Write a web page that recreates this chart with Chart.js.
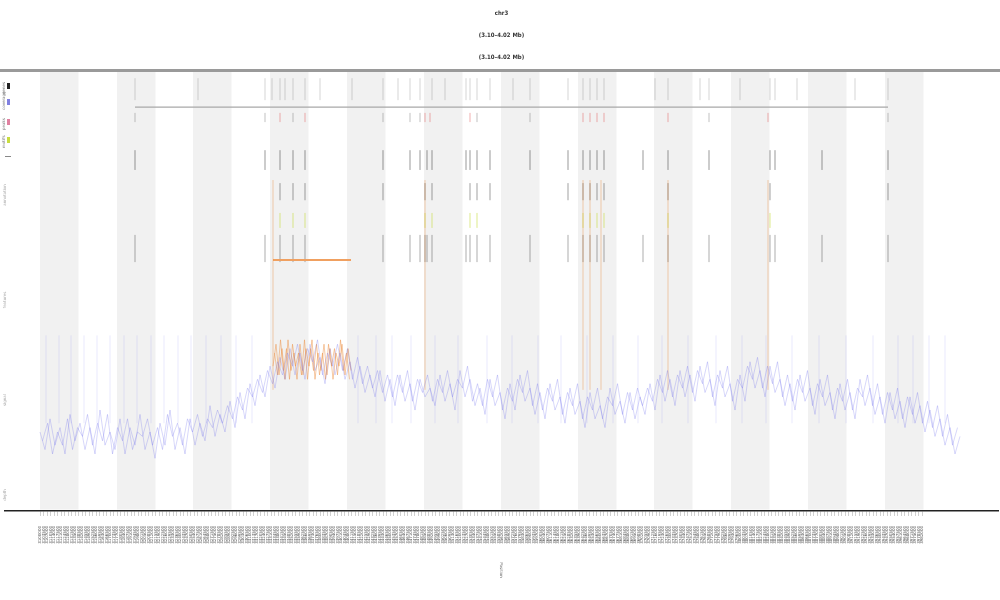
<!DOCTYPE html>
<html>
<head>
<meta charset="utf-8">
<script src="https://cdn.jsdelivr.net/npm/chart.js@4.4.1/dist/chart.umd.min.js"></script>
<style>
  html, body { margin: 0; padding: 0; background: #fff; }
  #wrap { width: 1000px; height: 600px; }
</style>
</head>
<body>
<div id="wrap"><canvas id="plot" width="1000" height="600"></canvas></div>
<script>
// Titre (trois lignes) et libellés
const titleLines = ['chr3', '(3.10–4.02 Mb)', '(3.10–4.02 Mb)'];
const xAxisTitle = 'Position';
const legendItems = ['genes', 'coverage', 'peaks', 'motifs', 'range'];
const legendColors = ['#222222', '#8080e0', '#e080a0', '#c8dc40', '#888888'];
const rowLabels = ['annotation', 'features', 'signal', 'depth'];

// Bandes grises (début, en unités de position)
const bandStarts = [0, 77, 153, 230, 307, 384, 461, 538, 614, 691, 768, 845];
const bandWidth = 38.5;

// Étiquettes de l'axe X
const tickStart = 0;
const tickStep = 3.5;
const tickCount = 253;
const tickLabels = [];
for (let i = 0; i < tickCount; i++) tickLabels.push(String(3100000 + i * 3500));

// Série bleue (couverture) : deux passes décalées, un point tous les 5 unités
const blueStep = 5;
const blueValues = [
  18, 14, 21, 15, 19, 13, 22, 16, 20, 14,
  19, 13, 23, 15, 18, 14, 21, 13, 19, 15,
  22, 14, 18, 12, 20, 15, 23, 14, 19, 13,
  21, 15, 20, 16, 24, 17, 22, 18, 25, 19,
  27, 21, 29, 24, 31, 26, 33, 28, 35, 30,
  37, 31, 36, 30, 38, 32, 35, 29, 37, 31,
  36, 30, 34, 28, 33, 27, 31, 26, 32, 25,
  30, 24, 31, 25, 29, 23, 30, 26, 28, 24,
  31, 25, 29, 23, 32, 26, 30, 24, 28, 22,
  30, 24, 27, 21, 29, 23, 31, 25, 28, 22,
  27, 21, 29, 23, 26, 20, 28, 22, 25, 19,
  27, 21, 24, 19, 28, 22, 25, 20, 27, 21,
  26, 22, 29, 23, 31, 25, 30, 24, 32, 26,
  31, 25, 33, 27, 30, 24, 32, 26, 29, 23,
  31, 25, 34, 28, 32, 26, 33, 27, 30, 24,
  29, 23, 31, 25, 28, 22, 30, 24, 27, 21,
  29, 23, 27, 21, 30, 24, 28, 22, 26, 20,
  27, 21, 25, 19, 26, 20, 24, 18, 23, 17,
  21, 15, 19, 13, 17
];
const blueOffset2 = 2.5;
const blueValues2 = [
  16, 20, 13, 18, 15, 21, 14, 19, 17, 22,
  15, 20, 16, 22, 13, 19, 16, 21, 14, 18,
  17, 21, 15, 19, 14, 22, 17, 20, 15, 21,
  18, 22, 17, 21, 19, 23, 20, 24, 21, 26,
  23, 28, 26, 30, 27, 32, 29, 34, 31, 36,
  33, 38, 32, 37, 34, 39, 31, 36, 33, 38,
  32, 37, 30, 35, 29, 33, 28, 32, 27, 31,
  26, 31, 27, 32, 25, 30, 27, 31, 25, 30,
  27, 32, 26, 30, 28, 33, 25, 29, 24, 30,
  26, 31, 23, 28, 25, 30, 27, 32, 24, 29,
  23, 28, 25, 30, 22, 27, 24, 29, 21, 26,
  23, 28, 21, 26, 24, 29, 22, 27, 23, 28,
  24, 28, 25, 30, 27, 32, 26, 31, 28, 33,
  27, 32, 29, 34, 26, 31, 28, 33, 25, 30,
  28, 33, 30, 35, 28, 33, 29, 34, 26, 31,
  25, 30, 27, 32, 24, 29, 26, 31, 23, 28,
  25, 30, 23, 28, 26, 31, 24, 29, 22, 27,
  23, 28, 21, 26, 22, 27, 20, 25, 19, 24,
  17, 22, 15, 19
];

// Série orange (région sélectionnée), un point tous les 3 unités à partir de 233
const orangeStart = 233;
const orangeStep = 3;
const orangeValues = [33, 38, 31, 37, 30, 39, 32, 36, 30, 38, 31, 37, 33, 39,
                      30, 36, 32, 38, 31, 37, 30, 36, 33, 38, 31, 37, 32];
const orangeStart2 = 234.5;
const orangeValues2 = [36, 31, 39, 32, 37, 30, 38, 33, 36, 31, 39, 30, 37, 32,
                       38, 31, 36, 30, 38, 33, 37, 31, 39, 32, 36, 30];

// Pics fins (positions) au-dessus de la série bleue
const spikeX = [6, 19, 31, 44, 57, 70, 84, 97, 111, 124, 138, 151, 166, 181, 196,
                212, 318, 336, 352, 371, 395, 418, 447, 472, 498, 521, 547, 573,
                598, 622, 648, 676, 702, 726, 752, 779, 806, 833, 858, 873, 889, 905];
const spikeLow = 20;
const spikeHigh = 40;

// Lignes verticales orange
const orangeVX = [233, 385, 543, 550, 561, 628, 728];
const orangeVLow = 27.6;
const orangeVHigh = 75.4;

// Segment horizontal orange
const orangeHX = [233, 311];
const orangeHY = 57.2;

// Ligne horizontale grise
const greyHX = [95, 848];
const greyHY = 92;

// Rangées de marques verticales
const rowA = [95, 158, 225, 232, 240, 245, 253, 265, 280, 312, 343, 358, 370, 380, 392, 405,
              426, 430, 437, 450, 473, 490, 528, 543, 550, 557, 564, 615, 628, 660, 669,
              700, 730, 735, 757, 815, 848];
const rowBRed = [240, 265, 385, 390, 430, 543, 550, 557, 564, 628, 728];
const rowBGrey = [95, 225, 253, 343, 370, 380, 437, 490, 669, 848];
const rowC = [95, 225, 240, 253, 265, 343, 370, 380, 387, 392, 426, 430, 437, 450, 490, 528,
              543, 550, 557, 564, 603, 628, 669, 730, 735, 782, 848];
const rowD = [240, 253, 265, 343, 385, 392, 430, 437, 450, 528, 543, 550, 557, 564, 628, 730, 848];
const rowE = [240, 253, 265, 385, 392, 430, 437, 543, 550, 557, 564, 628, 730];
const rowF = [95, 225, 240, 253, 265, 343, 370, 380, 385, 387, 392, 426, 430, 437, 450, 490,
              528, 543, 550, 557, 564, 603, 628, 669, 730, 735, 782, 848];

// Construire des segments verticaux séparés par des trous
function segs(xs, lo, hi) {
    const out = [];
    xs.forEach(x => { out.push({ x: x, y: lo }, { x: x, y: hi }, { x: x, y: null }); });
    return out;
}

function lineDs(data, color, width) {
    return { type: 'line', data: data, borderColor: color, borderWidth: width,
             pointRadius: 0, spanGaps: false, tension: 0 };
}

const blueData = blueValues.map((v, i) => ({ x: i * blueStep, y: v }));
const blueData2 = blueValues2.map((v, i) => ({ x: blueOffset2 + i * blueStep, y: v }));
const orangeData = orangeValues.map((v, i) => ({ x: orangeStart + i * orangeStep, y: v }));
const orangeData2 = orangeValues2.map((v, i) => ({ x: orangeStart2 + i * orangeStep, y: v }));

// Plugin pour bandes, bordure, légende et textes
const decorPlugin = {
    id: 'decor',
    beforeDatasetsDraw(chart) {
        const { ctx, chartArea, scales } = chart;
        ctx.save();
        ctx.fillStyle = '#f1f1f1';
        bandStarts.forEach(b => {
            const x0 = scales.x.getPixelForValue(b);
            const x1 = scales.x.getPixelForValue(b + bandWidth);
            ctx.fillRect(x0, chartArea.top, x1 - x0, chartArea.bottom - chartArea.top - 1.5);
        });
        ctx.restore();
    },
    afterDraw(chart) {
        const { ctx, chartArea } = chart;
        ctx.save();
        // Bordure grise du haut
        ctx.strokeStyle = '#9a9a9a';
        ctx.lineWidth = 3;
        ctx.beginPath();
        ctx.moveTo(0, chartArea.top - 1.5);
        ctx.lineTo(1000, chartArea.top - 1.5);
        ctx.stroke();

        // Légende verticale à gauche
        const legY = [88, 104, 124, 142, 157];
        ctx.font = '4px "DejaVu Sans"';
        legendItems.forEach((t, i) => {
            ctx.fillStyle = legendColors[i];
            if (i === 4) ctx.fillRect(5, legY[i] - 1, 6, 1);
            else ctx.fillRect(7, legY[i] - 5, 3, 6);
            if (i !== 4) {
                ctx.save();
                ctx.translate(5, legY[i] + 6);
                ctx.rotate(-Math.PI / 2);
                ctx.fillStyle = '#777';
                ctx.fillText(t, 0, 0);
                ctx.restore();
            }
        });

        // Libellés des rangées (axe Y)
        const rowY = [195, 300, 400, 495];
        rowLabels.forEach((t, i) => {
            ctx.save();
            ctx.translate(6, rowY[i]);
            ctx.rotate(-Math.PI / 2);
            ctx.fillStyle = '#aaa';
            ctx.textAlign = 'center';
            ctx.fillText(t, 0, 0);
            ctx.restore();
        });

        // Titre de l'axe X
        ctx.save();
        ctx.translate(500, 570);
        ctx.rotate(Math.PI / 2);
        ctx.font = '4px "DejaVu Sans"';
        ctx.fillStyle = '#666';
        ctx.textAlign = 'center';
        ctx.fillText(xAxisTitle, 0, 0);
        ctx.restore();
        ctx.restore();
    }
};

const ctx = document.getElementById('plot').getContext('2d');
new Chart(ctx, {
    type: 'line',
    data: {
        datasets: [
            lineDs(segs(spikeX, spikeLow, spikeHigh), 'rgba(120,120,235,0.16)', 1),
            lineDs(blueData, 'rgba(105,105,235,0.45)', 0.6),
            lineDs(blueData2, 'rgba(105,105,235,0.45)', 0.6),
            lineDs(orangeData, 'rgba(236,145,70,0.7)', 0.7),
            lineDs(orangeData2, 'rgba(236,145,70,0.7)', 0.7),
            lineDs(segs(orangeVX, orangeVLow, orangeVHigh), 'rgba(236,140,60,0.5)', 0.8),
            lineDs([{ x: orangeHX[0], y: orangeHY }, { x: orangeHX[1], y: orangeHY }], '#f0a060', 2),
            lineDs([{ x: greyHX[0], y: greyHY }, { x: greyHX[1], y: greyHY }], '#a8a8a8', 1.2),
            lineDs(segs(rowA, 93.6, 98.6), 'rgba(120,120,120,0.45)', 0.7),
            lineDs(segs(rowBGrey, 88.6, 90.7), 'rgba(110,110,110,0.55)', 0.8),
            lineDs(segs(rowBRed, 88.6, 90.7), 'rgba(230,100,100,0.65)', 0.8),
            lineDs(segs(rowC, 77.7, 82.2), 'rgba(40,40,40,0.6)', 0.8),
            lineDs(segs(rowD, 70.8, 74.7), 'rgba(40,40,40,0.55)', 0.8),
            lineDs(segs(rowE, 64.5, 67.9), 'rgba(200,220,60,0.75)', 0.8),
            lineDs(segs(rowF, 56.7, 62.9), 'rgba(50,50,50,0.5)', 0.8)
        ]
    },
    options: {
        responsive: false,
        animation: false,
        layout: { padding: { left: 5, right: 2, top: 0, bottom: 0 } },
        plugins: {
            legend: { display: false },
            tooltip: { enabled: false },
            title: {
                display: true,
                text: titleLines,
                color: '#333',
                font: { family: '"Liberation Sans Narrow", "DejaVu Sans Condensed", sans-serif', size: 6, weight: 'bold', lineHeight: 3.67 },
                padding: { top: 2, bottom: 4 }
            }
        },
        scales: {
            x: {
                type: 'linear',
                min: -35,
                max: 958,
                afterBuildTicks: (scale) => {
                    scale.ticks = tickLabels.map((t, i) => ({ value: tickStart + i * tickStep }));
                },
                afterFit: (scale) => { scale.height = 89; },
                border: { color: '#222', width: 1.5 },
                grid: { drawOnChartArea: false, drawTicks: true, tickLength: 5, color: '#d0d0d0' },
                ticks: {
                    autoSkip: false,
                    minRotation: 90,
                    maxRotation: 90,
                    padding: 10,
                    color: '#555',
                    font: { size: 4, family: 'DejaVu Sans' },
                    callback: (v, i) => tickLabels[i]
                }
            },
            y: {
                display: false,
                min: 0,
                max: 100
            }
        }
    },
    plugins: [decorPlugin]
});
</script>
</body>
</html>
